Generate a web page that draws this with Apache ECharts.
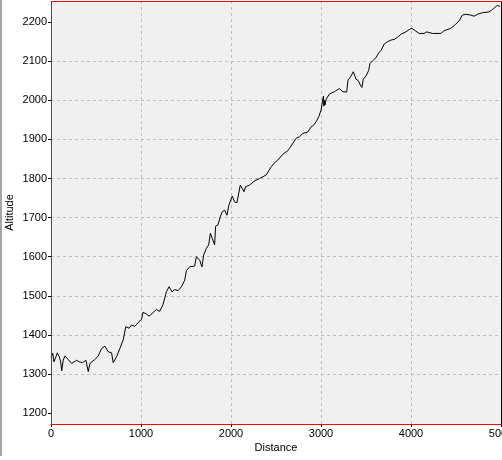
<!DOCTYPE html>
<html><head><meta charset="utf-8">
<script src="https://cdn.jsdelivr.net/npm/echarts@6/dist/echarts.min.js"></script>
<style>html,body{margin:0;padding:0;background:#fff}#c{width:502px;height:460px}</style>
</head><body><div id="c"></div>
<script>
const distances = [0,8,19,33,55,70,92,108,119,136,155,192,229,285,314,351,388,414,432,488,524,562,599,635,673,691,728,765,802,831,868,895,931,968,1006,1023,1061,1090,1134,1172,1208,1245,1282,1312,1345,1375,1412,1449,1486,1504,1541,1596,1615,1652,1677,1696,1726,1752,1771,1793,1818,1829,1855,1881,1903,1929,1955,1977,2014,2040,2066,2103,2132,2143,2162,2206,2262,2317,2391,2447,2483,2520,2576,2631,2650,2724,2761,2798,2853,2890,2916,2945,2975,3001,3019,3027,3032,3038,3045,3056,3093,3149,3204,3241,3285,3300,3323,3359,3389,3415,3437,3455,3470,3500,3529,3544,3574,3611,3640,3666,3703,3740,3777,3814,3851,3888,3943,3980,4010,4047,4091,4146,4172,4194,4239,4331,4368,4442,4498,4534,4571,4608,4664,4701,4738,4793,4867,4904,4959,4989];
const altitudes = [1340,1335,1353,1331,1344,1354,1344,1331,1308,1335,1346,1337,1327,1335,1331,1329,1335,1306,1327,1337,1346,1365,1371,1357,1354,1329,1344,1365,1387,1421,1417,1425,1422,1431,1440,1458,1453,1448,1457,1465,1460,1478,1510,1523,1510,1516,1513,1523,1540,1564,1574,1576,1600,1591,1574,1604,1621,1630,1660,1661,1630,1678,1681,1702,1715,1719,1706,1732,1755,1740,1738,1783,1772,1766,1779,1783,1794,1800,1809,1830,1840,1847,1862,1871,1877,1903,1907,1915,1919,1932,1936,1945,1958,1975,2001,2011,1985,2000,1988,2002,2016,2022,2030,2022,2021,2052,2058,2073,2054,2050,2039,2033,2054,2062,2076,2094,2101,2109,2121,2127,2144,2150,2154,2156,2161,2169,2175,2181,2184,2178,2171,2171,2175,2171,2171,2171,2178,2184,2195,2203,2218,2220,2218,2215,2220,2224,2226,2232,2243,2240];
const yTicks = [1200,1300,1400,1500,1600,1700,1800,1900,2000,2100,2200];
const xTicks = [0,1000,2000,3000,4000,5000];

const data = distances.map((d,i)=>[d,altitudes[i]]);
const FONT = 'Liberation Sans';
const chart = echarts.init(document.getElementById('c'), null, {renderer:'canvas'});
const dash = {color:'#bdbdbd', type:[3,3], width:1};
chart.setOption({
  animation:false,
  backgroundColor:'#ffffff',
  grid:{left:51, top:1, right:1, bottom:36, show:true, backgroundColor:'#f0f0f0', borderWidth:0, containLabel:false, outerBoundsMode:'none'},
  xAxis:{
    type:'value', min:0, max:5000, interval:1000,
    name:'Distance', nameLocation:'middle', nameGap:18, nameMoveOverlap:false,
    nameTextStyle:{fontFamily:FONT, fontSize:11, color:'#000'},
    axisLine:{show:true, onZero:false, lineStyle:{color:'#ff0000', width:1}},
    axisTick:{show:true, length:3, lineStyle:{color:'#000'}, customValues:xTicks},
    axisLabel:{fontFamily:FONT, fontSize:11, color:'#000', margin:4, customValues:xTicks, formatter:v=>String(v)},
    splitLine:{show:true, showMinLine:false, showMaxLine:false, lineStyle:dash}
  },
  yAxis:{
    type:'value', min:1172, max:2254, splitNumber:11,
    name:'Altitude', nameLocation:'middle', nameGap:36, nameRotate:90, nameMoveOverlap:false,
    nameTextStyle:{fontFamily:FONT, fontSize:11, color:'#000'},
    axisLine:{show:false},
    axisTick:{show:true, length:3, lineStyle:{color:'#000'}, customValues:yTicks},
    axisLabel:{fontFamily:FONT, fontSize:11, color:'#000', margin:4, customValues:yTicks, formatter:v=>String(v)},
    splitLine:{show:true, showMinLine:false, showMaxLine:false, lineStyle:dash}
  },
  graphic:[
    {type:'rect', shape:{x:0,y:0,width:2,height:456}, style:{fill:'#a7a6a0'}, silent:true, z:100},
    {type:'rect', shape:{x:51,y:1,width:1,height:424}, style:{fill:'#ff0000', stroke:null}, silent:true, z:100},
    {type:'rect', shape:{x:51,y:1,width:451,height:1}, style:{fill:'#ff0000', stroke:null}, silent:true, z:100},
    {type:'rect', shape:{x:501,y:2,width:1,height:422}, style:{fill:'#000000'}, silent:true, z:100}
  ],
  series:[{
    type:'line', data:data, showSymbol:false, symbol:'none',
    lineStyle:{color:'#000', width:1}
  }]
});
</script></body></html>
